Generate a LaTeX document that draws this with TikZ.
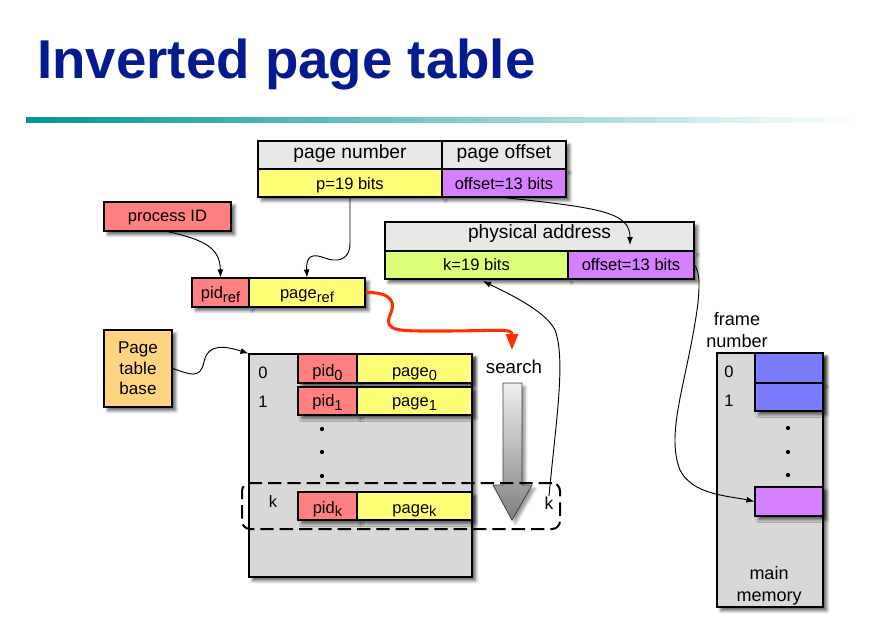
\documentclass[tikz,border=0pt]{standalone}
\usepackage{fontspec}
\setmainfont{Liberation Sans}
\usetikzlibrary{arrows.meta,shadows.blur}
\definecolor{hdr}{RGB}{232,232,232}
\definecolor{yel}{RGB}{255,255,119}
\definecolor{lil}{RGB}{213,128,255}
\definecolor{sal}{RGB}{255,128,128}
\definecolor{grn}{RGB}{221,255,119}
\definecolor{org}{RGB}{255,212,128}
\definecolor{tbl}{RGB}{216,216,216}
\definecolor{blu}{RGB}{123,123,255}
\definecolor{ttl}{RGB}{5,25,145}
\definecolor{tealline}{RGB}{0,150,150}
\definecolor{redarr}{RGB}{255,48,0}
\newcommand\lowsub[1]{\raisebox{-0.45ex}{\fontsize{11}{11}\selectfont #1}}
\begin{document}
\begin{tikzpicture}[x=0.75pt,y=-0.75pt,
  txt/.style={font=\fontsize{12.4}{15}\selectfont, inner sep=0pt},
  cell/.style 2 args={draw=black, line width=0.8pt, inner sep=0pt,
    font=\fontsize{12.4}{15}\selectfont,
    minimum width=#1*0.75pt, minimum height=#2*0.75pt,
    blur shadow={shadow xshift=2.8pt, shadow yshift=-2.8pt, shadow blur radius=2.2pt, shadow opacity=60}},
  hdrfont/.style={font=\fontsize{14.4}{17}\selectfont},
  bl/.style={text height=#1*1.5pt, text depth=0pt},
  conn/.style={draw=black, line width=0.7pt, -{Latex[length=6pt,width=4.5pt]}},
  dot/.style={fill=black}
]
\useasboundingbox (0,0) rectangle (870,628);

% title and rule
\node[anchor=base west, inner sep=0pt, text=ttl, font=\fontsize{41}{41}\selectfont\bfseries] (title) at (37,78) {Inverted page table};
\shade[left color=tealline, right color=white] (26,117) rectangle (856,122);

% logical address
\node[cell={184}{28}, fill=hdr, hdrfont, bl=3.5] (pn) at (350,155) {page number};
\node[cell={124}{28}, fill=hdr, hdrfont, bl=3.5] (po) at (504,155) {page offset};
\node[cell={184}{28}, fill=yel, bl=6.5] (pbits) at (350,183) {p=19 bits};
\node[cell={124}{28}, fill=lil, bl=6.5] (obits) at (504,183) {offset=13 bits};

% process ID
\node[cell={127}{29}, fill=sal, bl=5.2] (procid) at (167.5,216.5) {process ID};

% pid_ref / page_ref
\node[cell={57}{29}, fill=sal, bl=6] (pidref) at (220.5,292.5) {pid\lowsub{ref}};
\node[cell={116}{29}, fill=yel, bl=6] (pageref) at (307,292.5) {page\lowsub{ref}};

% physical address
\node[cell={309}{29}, fill=hdr, hdrfont, bl=1.8] (pa) at (539.5,236.5) {physical address};
\node[cell={183}{28}, fill=grn, bl=5] (kbits) at (476.5,265) {k=19 bits};
\node[cell={126}{28}, fill=lil, bl=5] (obits2) at (631,265) {offset=13 bits};

% page table base
\node[cell={68}{77}, fill=org, align=center, font=\fontsize{12.8}{15.4}\selectfont] (ptb) at (138,368.5) {Page\\table\\base};

% page table
\node[cell={223}{223}, fill=tbl] (ptable) at (360.5,465.5) {};
\node[cell={59}{29}, fill=sal, bl=8] (pid0) at (327.5,368.5) {pid\lowsub{0}};
\node[cell={115}{29}, fill=yel, bl=8] (page0) at (414.5,368.5) {page\lowsub{0}};
\node[cell={59}{28}, fill=sal, bl=5.7] (pid1) at (327.5,401) {pid\lowsub{1}};
\node[cell={115}{28}, fill=yel, bl=5.7] (page1) at (414.5,401) {page\lowsub{1}};
\node[cell={59}{28}, fill=sal, bl=7] (pidk) at (327.5,506) {pid\lowsub{k}};
\node[cell={115}{28}, fill=yel, bl=7] (pagek) at (414.5,506) {page\lowsub{k}};
\node[txt, anchor=base] (lbl0) at (263,378) {0};
\node[txt, anchor=base] (lbl1) at (263,407) {1};
\node[txt, anchor=base] (lblk) at (273,507) {k};
\fill[dot] (322,429) circle (1.6pt);
\fill[dot] (322,452) circle (1.6pt);
\fill[dot] (322,476) circle (1.6pt);

% search arrow
\node[txt, anchor=base, font=\fontsize{14}{17}\selectfont] (search) at (514,373) {search};
\path[draw=black!75, line width=0.6pt, top color=gray!12, bottom color=gray!100,
  blur shadow={shadow xshift=2.5pt, shadow yshift=-2.5pt, shadow blur radius=2pt, shadow opacity=40}]
  (503,383) -- (522,383) -- (522,485) -- (532,485) -- (512,520) -- (493,485) -- (503,485) -- cycle;

% dashed selection box
\node[draw=black, line width=1.5pt, dash pattern=on 10pt off 4.5pt, rounded corners=6pt,
  minimum width=318*0.75pt, minimum height=46*0.75pt, inner sep=0pt] (kbox) at (401,506) {};
\node[txt, anchor=base, font=\fontsize{13}{15}\selectfont] (krt) at (549,509) {k};

% main memory
\node[cell={106}{254}, fill=tbl] (mem) at (770,480) {};
\node[cell={68}{30}, fill=blu] (mem0) at (789,368) {};
\node[cell={68}{28}, fill=blu] (mem1) at (789,397) {};
\node[cell={68}{29}, fill=lil] (memk) at (789,501.5) {};
\node[txt, anchor=base] (mlbl0) at (729,377) {0};
\node[txt, anchor=base] (mlbl1) at (729,406) {1};
\fill[dot] (788,428) circle (1.6pt);
\fill[dot] (788,452) circle (1.6pt);
\fill[dot] (788,475) circle (1.6pt);
\node[txt, align=center, font=\fontsize{13.6}{16.5}\selectfont] (framelbl) at (737,330) {frame\\number};
\node[txt, align=center, font=\fontsize{13.5}{16.5}\selectfont] (memlbl) at (769,586) {main\\memory};

% connector end points
\coordinate (patip) at (630,245);
\coordinate (ktip) at (483,281);
\coordinate (srchtip) at (512,350);

% connectors
\draw[conn] (procid.south) .. controls (205,240) and (220,248) .. (pidref.north);
\draw[conn] (pbits.south) -- (350,243) .. controls (350,262) and (335,262) .. (325,258)
  .. controls (312,253) and (306,256) .. (pageref.north);
\draw[conn] (obits.south) .. controls (600,208) and (630,212) .. (patip);
\draw[conn] (krt.north) .. controls (556,420) and (566,360) .. (555,330)
  .. controls (545,310) and (505,292) .. (ktip);
\draw[conn] (obits2.east) .. controls (702,275) and (700,300) .. (690,350)
  .. controls (680,400) and (668,440) .. (680,470)
  .. controls (692,495) and (730,496) .. (memk.west);
\draw[conn] (ptb.east) .. controls (190,374) and (200,380) .. (204,362)
  .. controls (208,343) and (225,346) .. (ptable.north west);
\draw[redarr, line width=2.3pt, -{Triangle[length=12pt,width=9pt]}]
  (pageref.east) .. controls (395,292) and (395,305) .. (390,315)
  .. controls (383,332) and (400,331) .. (440,331)
  .. controls (500,331) and (512,328) .. (srchtip);
\end{tikzpicture}
\end{document}
